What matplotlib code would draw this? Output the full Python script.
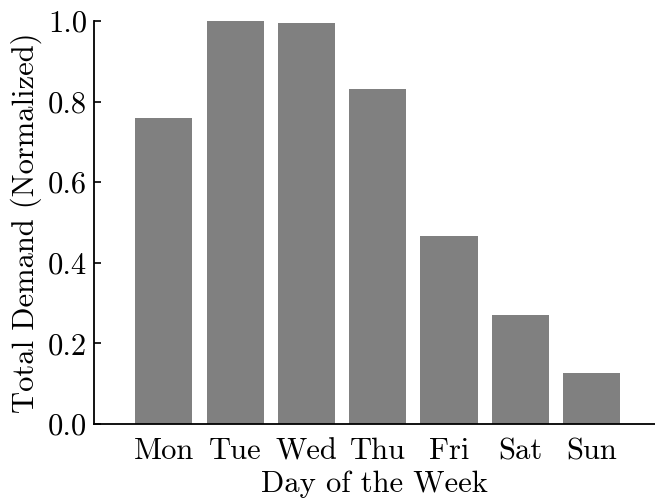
import matplotlib
matplotlib.use("Agg")
import matplotlib.pyplot as plt

days = ["Mon", "Tue", "Wed", "Thu", "Fri", "Sat", "Sun"]
demand = [0.759, 1.0, 0.996, 0.831, 0.467, 0.270, 0.127]

plt.rcParams["font.family"] = "serif"
plt.rcParams["font.serif"] = ["cmr10"]
plt.rcParams["axes.formatter.use_mathtext"] = True
plt.rcParams["mathtext.fontset"] = "cm"

W, H = 655, 498
fig = plt.figure(figsize=(W / 100, H / 100), dpi=100)
ax = fig.add_axes([94 / W, (H - 424) / H, (W - 94) / W, (424 - 21) / H])

x = list(range(len(days)))
ax.bar(x, demand, width=0.8, color="#808080")

ax.set_xlim(-0.98, 6.89)
ax.set_ylim(0, 1.0)
ax.set_xticks(x)
ax.set_xticklabels(days)
ax.set_yticks([0.0, 0.2, 0.4, 0.6, 0.8, 1.0])
ax.set_yticklabels(["0.0", "0.2", "0.4", "0.6", "0.8", "1.0"])

for s in ["top", "right"]:
    ax.spines[s].set_visible(False)
for s in ["left", "bottom"]:
    ax.spines[s].set_linewidth(1.3)

ax.tick_params(axis="y", direction="in", length=5, width=1.2, labelsize=22, pad=5)
ax.tick_params(axis="x", length=0, labelsize=22, pad=10)

ax.set_xlabel("Day of the Week", fontsize=22, labelpad=4)
ax.set_ylabel("Total Demand (Normalized)", fontsize=22, labelpad=4)

fig.savefig("out.png", dpi=100)
